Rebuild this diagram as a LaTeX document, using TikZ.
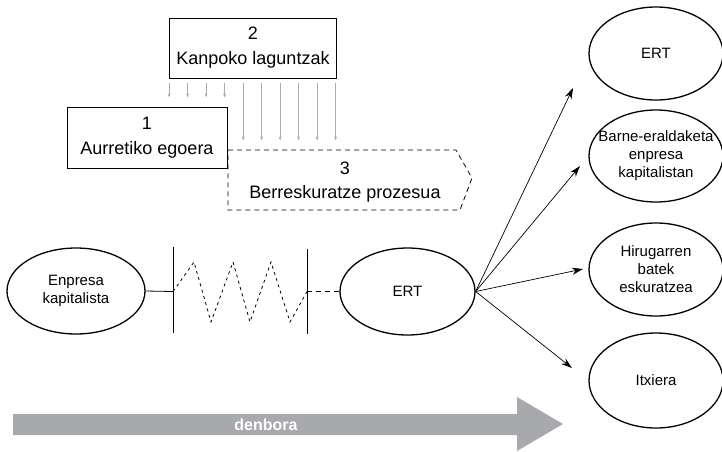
\documentclass[tikz,border=0pt]{standalone}
\usepackage{fontspec}
\setmainfont{Liberation Sans}
\usetikzlibrary{arrows.meta,shapes.geometric}
\definecolor{dgray}{RGB}{167,169,172}
\definecolor{lgray}{RGB}{170,170,170}
\begin{document}
\begin{tikzpicture}[x=1pt,y=-1pt,
  boxnode/.style={draw, line width=0.8pt, fill=white, inner sep=0pt, align=center, font=\fontsize{18}{25}\selectfont},
  txtthree/.style={inner sep=0pt, align=center, font=\fontsize{18}{24}\selectfont},
  dashbox/.style={draw, line width=0.8pt, dash pattern=on 5pt off 4pt},
  ell/.style={draw, ellipse, line width=1.3pt, inner sep=0pt, align=center, font=\fontsize{15}{18}\selectfont},
  garrow/.style={draw=lgray, line width=0.6pt, -{Stealth[length=4pt,width=3pt]}},
  zig/.style={line width=0.8pt, dash pattern=on 3pt off 3.5pt},
  dashline/.style={line width=0.8pt, dash pattern=on 5pt off 4pt},
  arr/.style={line width=0.7pt, -{Stealth[length=11pt,width=7pt]}},
  vline/.style={line width=1pt}
]
\useasboundingbox (0,0) rectangle (722,451);

% box 3 (dashed signal shape)
\draw[dashbox] (228,150) -- (456,150) -- (472,178) -- (460,210) -- (228,210) -- cycle;
\node[txtthree] (b3) at (345,182) {3\\Berreskuratze prozesua};

% box 2 and box 1
\node[boxnode, minimum width=167pt, minimum height=60pt] (b2) at (253,48) {2\\Kanpoko laguntzak};
\node[boxnode, minimum width=160pt, minimum height=61pt] (b1) at (147,137.5) {1\\Aurretiko egoera};

% grey arrows from box 2
\foreach \i in {0,...,3}
  \draw[garrow] ([xshift=\i*18.5pt, yshift=-5pt]b2.south west) -- ++(0pt,-14pt);
\foreach \i in {4,...,9}
  \draw[garrow] ([xshift=\i*18.5pt, yshift=-5pt]b2.south west) -- ++(0pt,-57pt);

% ellipses
\node[ell, minimum width=138pt, minimum height=86pt] (ek) at (76,291) {Enpresa\\kapitalista};
\node[ell, minimum width=135pt, minimum height=87pt] (ert) at (407.5,291.5) {ERT};
\node[ell, minimum width=134pt, minimum height=93pt] (r1) at (656,53.5) {ERT};
\node[ell, inner xsep=-14pt, minimum width=134pt, minimum height=92pt] (r2) at (656,156) {Barne-eraldaketa\\enpresa\\kapitalistan};
\node[ell, minimum width=134pt, minimum height=93pt] (r3) at (656,269.5) {Hirugarren\\batek\\eskuratzea};
\node[ell, minimum width=134pt, minimum height=95pt] (r4) at (656,380.5) {Itxiera};

% transition section
\coordinate (v1t) at (173,247);
\coordinate (v1b) at (173,333);
\coordinate (v2t) at (307,249);
\coordinate (v2b) at (307,334);
\coordinate (z0) at (173,291.5);
\coordinate (z7) at (307,291.5);
\draw[vline] (v1t) -- (v1b);
\draw[vline] (v2t) -- (v2b);
\draw[line width=0.8pt] (ek.east) -- (z0);
\draw[zig] (z0) -- (194,262) -- (211,322) -- (233,262) -- (250,322) -- (271,262) -- (290,322) -- (z7);
\draw[dashline] (z7) -- (ert.west);

% outcome arrows
\coordinate (t1) at (573,88);
\coordinate (t2) at (580,166);
\coordinate (t3) at (583,269);
\coordinate (t4) at (572,368);
\draw[arr] (ert.east) -- (t1);
\draw[arr] (ert.east) -- (t2);
\draw[arr] (ert.east) -- (t3);
\draw[arr] (ert.east) -- (t4);

% time arrow
\fill[dgray] (13,414) -- (517,414) -- (517,397) -- (563,424) -- (517,451) -- (517,435) -- (13,435) -- cycle;
\node[text=white, inner sep=0pt, font=\bfseries\fontsize{16}{16}\selectfont] (den) at (266,424.5) {denbora};
\end{tikzpicture}
\end{document}
